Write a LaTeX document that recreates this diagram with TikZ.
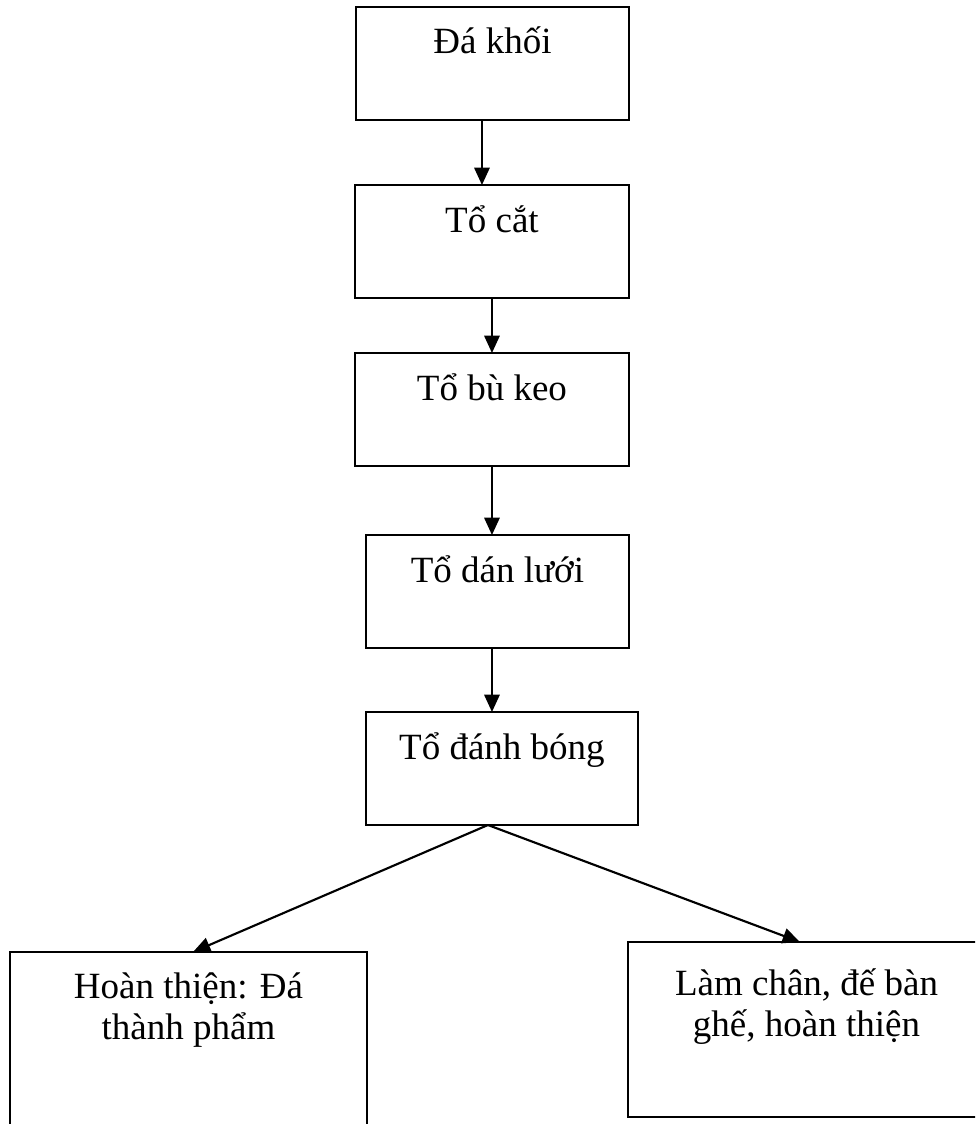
\documentclass[tikz,border=0pt]{standalone}
\usepackage{fontspec}
\setmainfont{Liberation Serif}
\usepackage{xcolor}
\definecolor{lineDark}{HTML}{000000}
\usepackage{tikz}
\usetikzlibrary{positioning,calc,arrows.meta}
\tikzset{%
  stepBox/.style={%
    rectangle,
    draw=lineDark,
    line width=1.2pt,
    inner sep=0pt,
    outer sep=0pt,
    align=center,
    font=\fontsize{27.75pt}{30.75pt}\selectfont,
    text height=35.25pt,
    text depth=49.5pt
  },
  endBox/.style={%
    stepBox,
    minimum width=267.75pt,
    text depth=131.25pt-#1,
    text height=#1
  },
  flowArrow/.style={%
    -{Triangle[length=13pt,width=11.5pt]},
    line width=1.6pt,
    color=lineDark
  }
}

\begin{document}
\begin{tikzpicture}[x=0.75pt,y=-0.75pt]
            \useasboundingbox (0,0) rectangle (975,1124);
            \clip (0,0) rectangle (975,1124);
            \node[stepBox, minimum width=204.75pt, anchor=north] (khoi) at (492.5,7) {Đá khối};
            \node[stepBox, minimum width=205.5pt, below=48.75pt of khoi, xshift=-0.4pt] (cat) {Tổ cắt};
            \node[stepBox, minimum width=205.5pt, below=41.25pt of cat] (buKeo) {Tổ bù keo};
            \node[stepBox, minimum width=197.25pt, below=51.75pt of buKeo, xshift=4.1pt] (danLuoi) {Tổ dán lưới};
            \node[stepBox, minimum width=204pt, below=48pt of danLuoi, xshift=3.4pt] (danhBong) {Tổ đánh bóng};
            \node[endBox=65.25pt, below=95.25pt of danhBong, xshift=-235.1pt] (thanhPham) {Hoàn thiện: Đá\\thành phẩm};
            \node[endBox=70.5pt, below=87.75pt of danhBong, xshift=228.4pt] (banGhe) {Làm chân, đế bàn\\ghế, hoàn thiện};

            \coordinate (fork) at ([xshift=-10.5pt]danhBong.south);

            \draw[flowArrow] ([xshift=-7.9pt]khoi.south) -- ([xshift=-7.9pt]khoi.south |- cat.north);
            \draw[flowArrow] (cat.south) -- (cat.south |- buKeo.north);
            \draw[flowArrow] (buKeo.south) -- (buKeo.south |- danLuoi.north);
            \draw[flowArrow] ([xshift=-4.1pt]danLuoi.south) -- ([xshift=-4.1pt]danLuoi.south |- danhBong.north);
            \draw[flowArrow] (fork) -- ([xshift=3.4pt]thanhPham.north);
            \draw[flowArrow] (fork) -- ([xshift=-4.9pt]banGhe.north);
        \end{tikzpicture}
\end{document}
